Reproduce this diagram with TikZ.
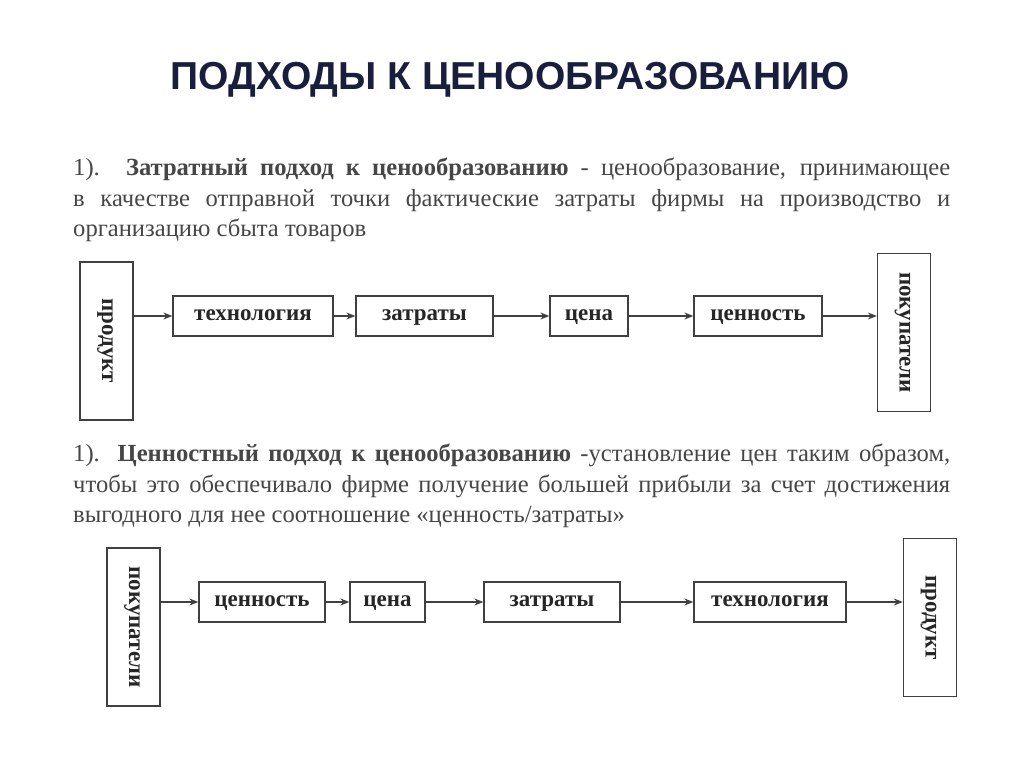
\documentclass[tikz,border=0pt]{standalone}
\usepackage{fontspec}
\setmainfont{Liberation Serif}
\newfontfamily\titlefont{Liberation Sans}
\usetikzlibrary{arrows.meta}
\definecolor{navy}{RGB}{25,30,60}
\definecolor{txt}{RGB}{70,70,70}
\tikzset{
 hbox/.style={draw=black!75,line width=1.3pt,minimum height=40pt,inner sep=0pt,text height=12pt,text depth=3pt,font=\bfseries\fontsize{23}{26}\selectfont,text=black!85},
 vbox/.style={draw=black!75,line width=1.3pt,minimum width=53pt,minimum height=158pt,inner sep=0pt},
 vtext/.style={rotate=-90,text height=12pt,text depth=3pt,font=\bfseries\fontsize{23}{26}\selectfont,text=black!85},
 arr/.style={-{Stealth[length=9pt,width=7pt]},line width=1.1pt,black!75},
 para/.style={text width=877pt,align=justify,inner sep=0pt,anchor=north west,font=\fontsize{24.6}{30.5}\selectfont,text=txt}
}
\begin{document}
\begin{tikzpicture}[x=1pt,y=-1pt]
\useasboundingbox (0,0) rectangle (1024,767);
\node (title) at (510,80) {\titlefont\bfseries\fontsize{39}{44}\selectfont\color{navy}ПОДХОДЫ К ЦЕНООБРАЗОВАНИЮ};
\node[para] (p1) at (73,158) {1). \textbf{Затратный подход к ценообразованию} - ценообразование, принимающее в качестве отправной точки фактические затраты фирмы на производство и организацию сбыта товаров};
% row 1
\node[vbox] (a1) at (106.5,341) {}; \node[vtext] at (a1) {продукт};
\node[hbox,minimum width=160pt] (a2) at (253,316) {технология};
\node[hbox,minimum width=137pt] (a3) at (424.5,316) {затраты};
\node[hbox,minimum width=78pt] (a4) at (589,316) {цена};
\node[hbox,minimum width=128pt] (a5) at (758,316) {ценность};
\node[vbox] (a6) at (904,332.5) {}; \node[vtext] at (a6) {покупатели};
\draw[arr] (a1.east|-a2) -- (a2);
\draw[arr] (a2) -- (a3);
\draw[arr] (a3) -- (a4);
\draw[arr] (a4) -- (a5);
\draw[arr] (a5) -- (a6.west|-a5);
\node[para] (p2) at (73,444) {1). \textbf{Ценностный подход к ценообразованию} -установление цен таким образом, чтобы это обеспечивало фирме получение большей прибыли за счет достижения выгодного для нее соотношение «ценность/затраты»};
% row 2
\node[vbox] (b1) at (133.5,627) {}; \node[vtext] at (b1) {покупатели};
\node[hbox,minimum width=126pt] (b2) at (262,602) {ценность};
\node[hbox,minimum width=75pt] (b3) at (387.5,602) {цена};
\node[hbox,minimum width=136pt] (b4) at (552,602) {затраты};
\node[hbox,minimum width=152pt] (b5) at (770,602) {технология};
\node[vbox] (b6) at (930,617.5) {}; \node[vtext] at (b6) {продукт};
\draw[arr] (b1.east|-b2) -- (b2);
\draw[arr] (b2) -- (b3);
\draw[arr] (b3) -- (b4);
\draw[arr] (b4) -- (b5);
\draw[arr] (b5) -- (b6.west|-b5);
\end{tikzpicture}
\end{document}
